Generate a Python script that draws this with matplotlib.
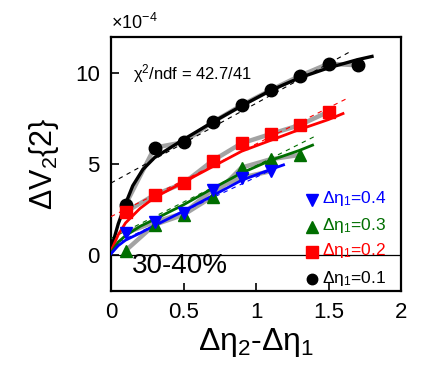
import matplotlib
matplotlib.use("Agg")
import matplotlib.pyplot as plt

plt.rcParams['font.family'] = ['Liberation Sans', 'DejaVu Sans']
plt.rcParams['mathtext.fontset'] = 'custom'
plt.rcParams['mathtext.rm'] = 'Liberation Sans'
plt.rcParams['mathtext.it'] = 'Liberation Sans'
plt.rcParams['mathtext.bf'] = 'Liberation Sans:bold'

# ---- data (units of 1e-4) ----
x_black = [0.1, 0.3, 0.5, 0.7, 0.9, 1.1, 1.3, 1.5, 1.7]
y_black = [2.75, 5.9, 6.2, 7.3, 8.24, 9.07, 9.85, 10.53, 10.44]
x_red = [0.1, 0.3, 0.5, 0.7, 0.9, 1.1, 1.3, 1.5]
y_red = [2.35, 3.3, 3.94, 5.18, 6.14, 6.65, 7.14, 7.88]
x_green = [0.1, 0.3, 0.5, 0.7, 0.9, 1.1, 1.3]
y_green = [0.22, 1.65, 2.2, 3.2, 4.8, 5.26, 5.5]
x_blue = [0.1, 0.3, 0.5, 0.7, 0.9, 1.1]
y_blue = [1.19, 1.8, 2.29, 3.57, 4.25, 4.6]

# fit curves
fx_black = [0.0, 0.05, 0.1, 0.15, 0.22, 0.3, 0.5, 0.7, 0.9, 1.1, 1.3, 1.5, 1.7, 1.8]
fy_black = [0.3, 1.7, 2.8, 3.8, 4.7, 5.35, 6.35, 7.3, 8.2, 9.05, 9.75, 10.3, 10.75, 10.93]
fx_red = [0.0, 0.05, 0.1, 0.2, 0.3, 0.5, 0.7, 0.9, 1.1, 1.3, 1.5, 1.6]
fy_red = [0.2, 1.1, 1.75, 2.55, 3.15, 4.0, 4.85, 5.7, 6.3, 6.9, 7.45, 7.78]
fx_green = [0.0, 0.05, 0.1, 0.2, 0.3, 0.5, 0.7, 0.9, 1.1, 1.3, 1.39]
fy_green = [0.1, 0.7, 1.05, 1.56, 1.95, 2.75, 3.65, 4.5, 5.2, 5.75, 6.04]
fx_blue = [0.0, 0.05, 0.1, 0.2, 0.3, 0.5, 0.7, 0.9, 1.1, 1.19]
fy_blue = [0.05, 0.5, 0.8, 1.19, 1.6, 2.4, 3.25, 4.1, 4.7, 4.95]

# dashed linear lines (end points)
dx_black = [0.0, 1.64]
dy_black = [3.95, 11.15]
dx_red = [0.0, 1.625]
dy_red = [2.1, 8.6]
dx_green = [0.0, 1.41]
dy_green = [0.9, 6.54]
dx_blue = [0.0, 1.22]
dy_blue = [0.5, 5.1]

labels = ['Δη$_1$=0.4', 'Δη$_1$=0.3', 'Δη$_1$=0.2', 'Δη$_1$=0.1']

c_black = 'black'
c_red = '#ff0000'
c_green = '#006e00'
c_blue = '#0000ff'
gray = '#a3a3a3'

fig = plt.figure(figsize=(4.46, 3.74), dpi=100)
ax = fig.add_axes([111/446, 1 - 291/374, 290/446, 254/374])

ax.axhline(0, color='black', lw=0.9, zorder=1)

series = [
    (x_black, y_black, fx_black, fy_black, dx_black, dy_black, c_black, 'o', 9.0, 2.4),
    (x_red, y_red, fx_red, fy_red, dx_red, dy_red, c_red, 's', 8.5, 2.0),
    (x_green, y_green, fx_green, fy_green, dx_green, dy_green, c_green, '^', 8.5, 2.0),
    (x_blue, y_blue, fx_blue, fy_blue, dx_blue, dy_blue, c_blue, 'v', 8.5, 2.0),
]
for i, (x, y, fx, fy, dx, dy, c, m, ms, lw) in enumerate(series):
    ax.plot(x, y, color=gray, lw=3.2, zorder=2 + i * 0.1, solid_capstyle='butt')
    ax.plot(dx, dy, color=c, lw=0.8, ls=(0, (4, 4)), zorder=3 + i * 0.1)
    ax.plot(fx, fy, color=c, lw=lw, zorder=4 + i * 0.1)
    ax.plot(x, y, ls='none', marker=m, color=c, ms=ms, mec=c, zorder=5 + i * 0.1)

ax.set_xlim(0, 2)
ax.set_ylim(-2, 12)
ax.set_xticks([0, 0.5, 1, 1.5, 2])
ax.set_xticklabels(['0', '0.5', '1', '1.5', '2'])
ax.set_yticks([0, 5, 10])
ax.tick_params(direction='in', length=6, width=1.2, labelsize=16, pad=8)
for s in ax.spines.values():
    s.set_linewidth(1.6)

ax.set_xlabel('Δη$_2$-Δη$_1$', fontsize=23, labelpad=2)
ax.set_ylabel('ΔV$_2${2}', fontsize=22, labelpad=10)

ax.text(0.0, 1.015, '×10$^{-4}$', transform=ax.transAxes, fontsize=13,
        ha='left', va='bottom')
ax.text(0.075, 0.858, 'χ$^2$/ndf = 42.7/41', transform=ax.transAxes,
        fontsize=12, ha='left', va='center')
ax.text(0.072, 0.10, '30-40%', transform=ax.transAxes, fontsize=20,
        ha='left', va='center')

# legend
leg_y = [0.358, 0.253, 0.155, 0.046]
leg_c = [c_blue, c_green, c_red, c_black]
leg_m = ['v', '^', 's', 'o']
leg_ms = [9, 8.5, 9, 7.5]
for yy, lab, c, m, ms in zip(leg_y, labels, leg_c, leg_m, leg_ms):
    ax.plot([0.692], [yy], transform=ax.transAxes, marker=m, color=c, ms=ms,
            ls='none', clip_on=False, zorder=6)
    ax.text(0.726, yy + 0.005, lab, transform=ax.transAxes, color=c,
            fontsize=12.5, ha='left', va='center', zorder=6)

fig.savefig('out.png', dpi=100)
